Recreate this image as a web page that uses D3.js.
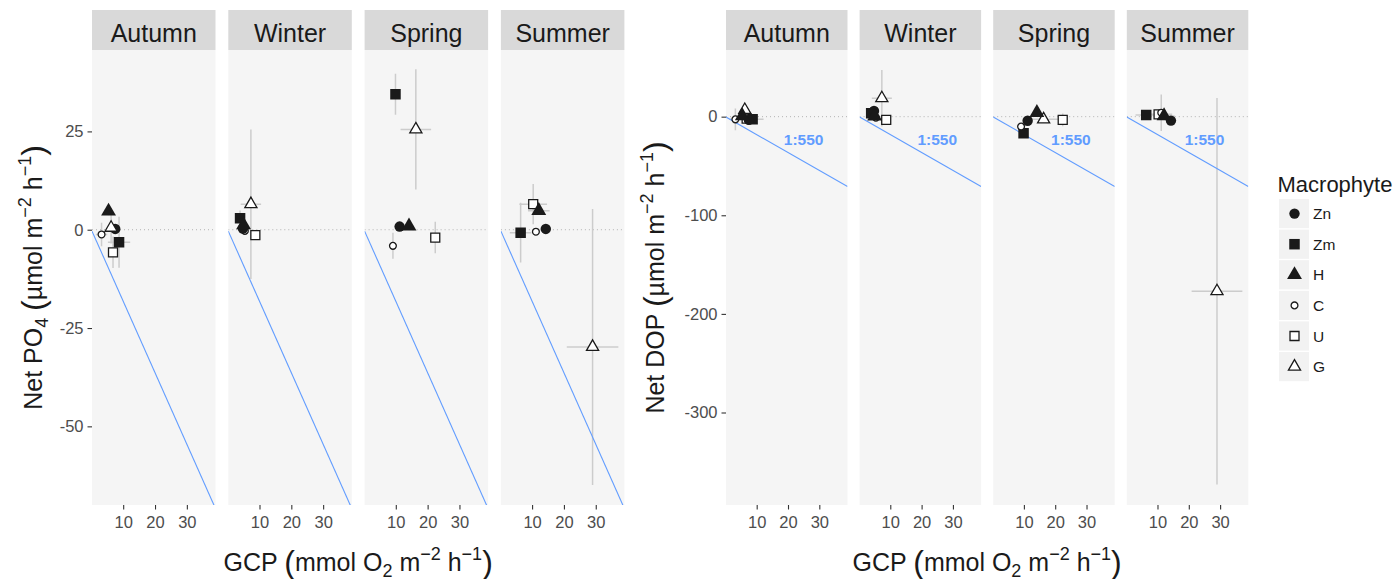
<!DOCTYPE html>
<html><head><meta charset="utf-8">
<script src="https://cdn.jsdelivr.net/npm/d3@7"></script>
<style>
body{margin:0;background:#fff;}
svg{display:block;font-family:"Liberation Sans",Arial,Helvetica,sans-serif;}
</style>
</head><body>
<svg id="c" width="1396" height="579"></svg>
<script>
// ---------------- data ----------------
const seasons = ["Autumn", "Winter", "Spring", "Summer"];
const macrophytes = ["Zn", "Zm", "H", "C", "U", "G"];
// GCP (x) mean and error per season, per macrophyte (Zn, Zm, H, C, U, G)
const gcp = [
  [7.5, 8.7, 5.4, 3.2, 6.8, 6.2],
  [4.8, 3.9, 5.0, 5.4, 8.7, 7.3],
  [11.2, 9.9, 14.15, 9.1, 22.4, 16.3],
  [14.3, 6.4, 12.1, 11.2, 10.35, 29.0]
];
const gcpErr = [
  [0.8, 3.5, 0.8, 1.8, 0.8, 1.2],
  [0.6, 0.6, 0.6, 0.6, 0.8, 3.2],
  [0.8, 0.8, 1.0, 0.8, 0.8, 4.8],
  [1.0, 3.4, 3.4, 1.0, 4.35, 8.1]
];
const po4 = [
  [0.2, -3.2, 4.7, -1.2, -5.75, 0.5],
  [0.3, 2.9, 1.2, -0.3, -1.35, 6.5],
  [0.8, 34.45, 0.9, -4.1, -2.0, 25.5],
  [0.2, -0.75, 4.85, -0.5, 6.5, -29.8]
];
const po4Err = [
  [0.8, 6.5, 1.0, 3.0, 4.0, 4.0],
  [0.6, 2.0, 0.8, 0.8, 0.8, 19.0],
  [0.6, 5.2, 0.6, 3.3, 4.0, 15.3],
  [0.6, 7.6, 1.0, 0.8, 5.1, 35.1]
];
const dop = [
  [-3.3, -2.7, 0.7, -2.7, -2.0, 6.8],
  [5.8, 3.4, 0.5, -1.0, -3.3, 18.7],
  [-4.1, -16.8, 4.1, -10.1, -3.3, -2.7],
  [-4.0, 1.7, 0.7, 4.0, 2.4, -177]
];
const dopErr = [
  [2, 2, 2, 11, 2, 3],
  [2, 2, 2, 2, 2, 28.6],
  [2, 2, 2, 2, 6.4, 3],
  [2, 2, 2, 18.5, 3, 196]
];
const yTicksPO4 = [25, 0, -25, -50];
const yTicksDOP = [0, -100, -200, -300];
const xTicks = [10, 20, 30];
const cpRatio = 550;              // C:P line, slope -1000/550
const ratioLabel = "1:550";
const ratioLabelPos = [25, -23];  // data coords in DOP panels
const drawOrder = ["U", "Zm", "C", "Zn", "G", "H"];

// ---------------- styles ----------------
const shapeOf = {Zn: "circle", Zm: "square", H: "triangle", C: "circle", U: "square", G: "triangle"};
const filledOf = {Zn: true, Zm: true, H: true, C: false, U: false, G: false};
const sizeOf = {Zn: 5.2, Zm: 10.5, H: 8.6, C: 4.0, U: 9.6, G: 7.6};
const INK = "#1a1a1a";
const BLUE = "#619CFF";
const ERR = "#cccccc";

const svg = d3.select("#c");
const defs = svg.append("defs");
const panelTop = 50, panelBottom = 505, stripTop = 10;
const xDomain = [0.2, 39.0];

function shapePath(kind, s) {
  if (kind === "circle") {
    return `M${s},0A${s},${s} 0 1,1 ${-s},0A${s},${s} 0 1,1 ${s},0Z`;
  } else if (kind === "square") {
    const h = s / 2;
    return `M${-h},${-h}H${h}V${h}H${-h}Z`;
  } else {
    const w = s * Math.sqrt(3) / 2;
    return `M0,${-s}L${w},${s / 2}L${-w},${s / 2}Z`;
  }
}
function drawShape(g, m, cx, cy) {
  const f = filledOf[m];
  g.append("path")
    .attr("d", shapePath(shapeOf[m], sizeOf[m] - (f ? 0 : 0.6)))
    .attr("transform", `translate(${cx},${cy})`)
    .attr("fill", f ? INK : "#fff")
    .attr("stroke", INK)
    .attr("stroke-width", f ? 0 : 1.3)
    .attr("stroke-linejoin", "miter");
}

function richText(parent, segs, x, y, rotate) {
  const t = parent.append("text")
    .attr("transform", `translate(${x},${y})` + (rotate ? " rotate(-90)" : ""))
    .attr("text-anchor", "middle")
    .attr("fill", INK);
  segs.forEach(s => {
    const ts = t.append("tspan").text(s[0]).attr("font-size", s[1]);
    if (s[2]) ts.attr("dy", s[2]);
  });
  return t;
}

let clipId = 0;
function drawPlot(cfg) {
  seasons.forEach((season, si) => {
    const x0 = cfg.x0 + si * cfg.step;
    const w = cfg.width;
    const g = svg.append("g").attr("transform", `translate(${x0},0)`);
    const x = d3.scaleLinear().domain(xDomain).range([0, w]);
    const y = d3.scaleLinear().domain(cfg.yDomain).range([panelBottom, panelTop]);

    g.append("rect").attr("x", 0).attr("y", panelTop).attr("width", w)
      .attr("height", panelBottom - panelTop).attr("fill", "#f5f5f5");
    g.append("rect").attr("x", 0).attr("y", stripTop).attr("width", w)
      .attr("height", panelTop - stripTop).attr("fill", "#d9d9d9");
    g.append("text").attr("x", w / 2).attr("y", 42).attr("text-anchor", "middle")
      .attr("font-size", 25).attr("fill", INK).text(season);

    const cid = "clip" + (clipId++);
    defs.append("clipPath").attr("id", cid).append("rect")
      .attr("x", 0).attr("y", panelTop).attr("width", w).attr("height", panelBottom - panelTop);
    const p = g.append("g").attr("clip-path", `url(#${cid})`);

    // zero line
    p.append("line").attr("x1", 0).attr("x2", w).attr("y1", y(0)).attr("y2", y(0))
      .attr("stroke", "#b3b3b3").attr("stroke-width", 1).attr("stroke-dasharray", "1,3");

    // error bars
    const vals = cfg.vals[si], errs = cfg.errs[si];
    drawOrder.forEach(m => {
      const k = macrophytes.indexOf(m);
      const gx = gcp[si][k], ge = gcpErr[si][k], vy = vals[k], ve = errs[k];
      p.append("line").attr("x1", x(gx)).attr("x2", x(gx))
        .attr("y1", y(vy - ve)).attr("y2", y(vy + ve))
        .attr("stroke", ERR).attr("stroke-width", 1.5);
      p.append("line").attr("x1", x(gx - ge)).attr("x2", x(gx + ge))
        .attr("y1", y(vy)).attr("y2", y(vy))
        .attr("stroke", ERR).attr("stroke-width", 1.5);
    });

    // C:P line
    const slope = -1000 / cpRatio;
    p.append("line").attr("x1", x(xDomain[0])).attr("y1", y(slope * xDomain[0]))
      .attr("x2", x(xDomain[1])).attr("y2", y(slope * xDomain[1]))
      .attr("stroke", BLUE).attr("stroke-width", 1.1);

    // points
    drawOrder.forEach(m => {
      const k = macrophytes.indexOf(m);
      drawShape(p, m, x(gcp[si][k]), y(vals[k]));
    });

    if (cfg.label) {
      g.append("text").attr("x", x(ratioLabelPos[0])).attr("y", y(ratioLabelPos[1]))
        .attr("dy", "0.36em").attr("text-anchor", "middle")
        .attr("font-size", 15.5).attr("font-weight", "bold").attr("fill", BLUE)
        .text(ratioLabel);
    }

    // x axis
    const xa = g.append("g").attr("transform", `translate(0,${panelBottom})`)
      .call(d3.axisBottom(x).tickValues(xTicks).tickSize(4.5).tickPadding(6.5));
    xa.select(".domain").remove();
    xa.selectAll("line").attr("stroke", "#333").attr("stroke-width", 1.1);
    xa.selectAll("text").attr("font-size", 16.5).attr("fill", "#4d4d4d")
      .attr("font-family", "Liberation Sans, Arial, sans-serif");

    if (si === 0) {
      const ya = g.append("g")
        .call(d3.axisLeft(y).tickValues(cfg.yTicks).tickSize(4.5).tickPadding(4)
          .tickFormat(d => String(d)));
      ya.select(".domain").remove();
      ya.selectAll("line").attr("stroke", "#333").attr("stroke-width", 1.1);
      ya.selectAll("text").attr("font-size", 16.5).attr("fill", "#4d4d4d")
        .attr("font-family", "Liberation Sans, Arial, sans-serif");
    }
  });

  const xc = cfg.x0 + (3 * cfg.step + cfg.width) / 2;
  richText(svg, [
    ["GCP ", 25], ["(", 32, 2], ["mmol O", 25, -2], ["2", 18, 6], [" m", 25, -6],
    ["\u22122", 18, -11], [" h", 25, 11], ["\u22121", 18, -11], [")", 32, 13]
  ], xc, 570.5, false);
  richText(svg, cfg.yTitle, cfg.yTitleX, (panelTop + panelBottom) / 2, true);
}

drawPlot({
  x0: 92, step: 136.3, width: 123.5, yDomain: [-70, 45.7],
  vals: po4, errs: po4Err, yTicks: yTicksPO4, label: false, yTitleX: 42,
  yTitle: [["Net PO", 25], ["4", 18, 6], [" ", 25, -6], ["(", 32, 2], ["\u00b5mol m", 25, -2],
    ["\u22122", 18, -11], [" h", 25, 11], ["\u22121", 18, -11], [")", 32, 13]]
});
drawPlot({
  x0: 726, step: 133.6, width: 121.5, yDomain: [-393.8, 67.6],
  vals: dop, errs: dopErr, yTicks: yTicksDOP, label: true, yTitleX: 664,
  yTitle: [["Net DOP ", 25], ["(", 32, 2], ["\u00b5mol m", 25, -2],
    ["\u22122", 18, -11], [" h", 25, 11], ["\u22121", 18, -11], [")", 32, 13]]
});

// legend
const lg = svg.append("g");
lg.append("text").attr("x", 1277.5).attr("y", 191.7).attr("font-size", 22).attr("fill", INK)
  .text("Macrophyte");
macrophytes.forEach((m, i) => {
  const top = 199 + i * 30.6;
  lg.append("rect").attr("x", 1279).attr("y", top).attr("width", 30).attr("height", 29.2)
    .attr("fill", "#f2f2f2");
  drawShape(lg, m, 1294.5, top + 14.6);
  lg.append("text").attr("x", 1313).attr("y", top + 14.6).attr("dy", "0.36em")
    .attr("font-size", 15.5).attr("fill", INK).text(m);
});
</script>
</body></html>
